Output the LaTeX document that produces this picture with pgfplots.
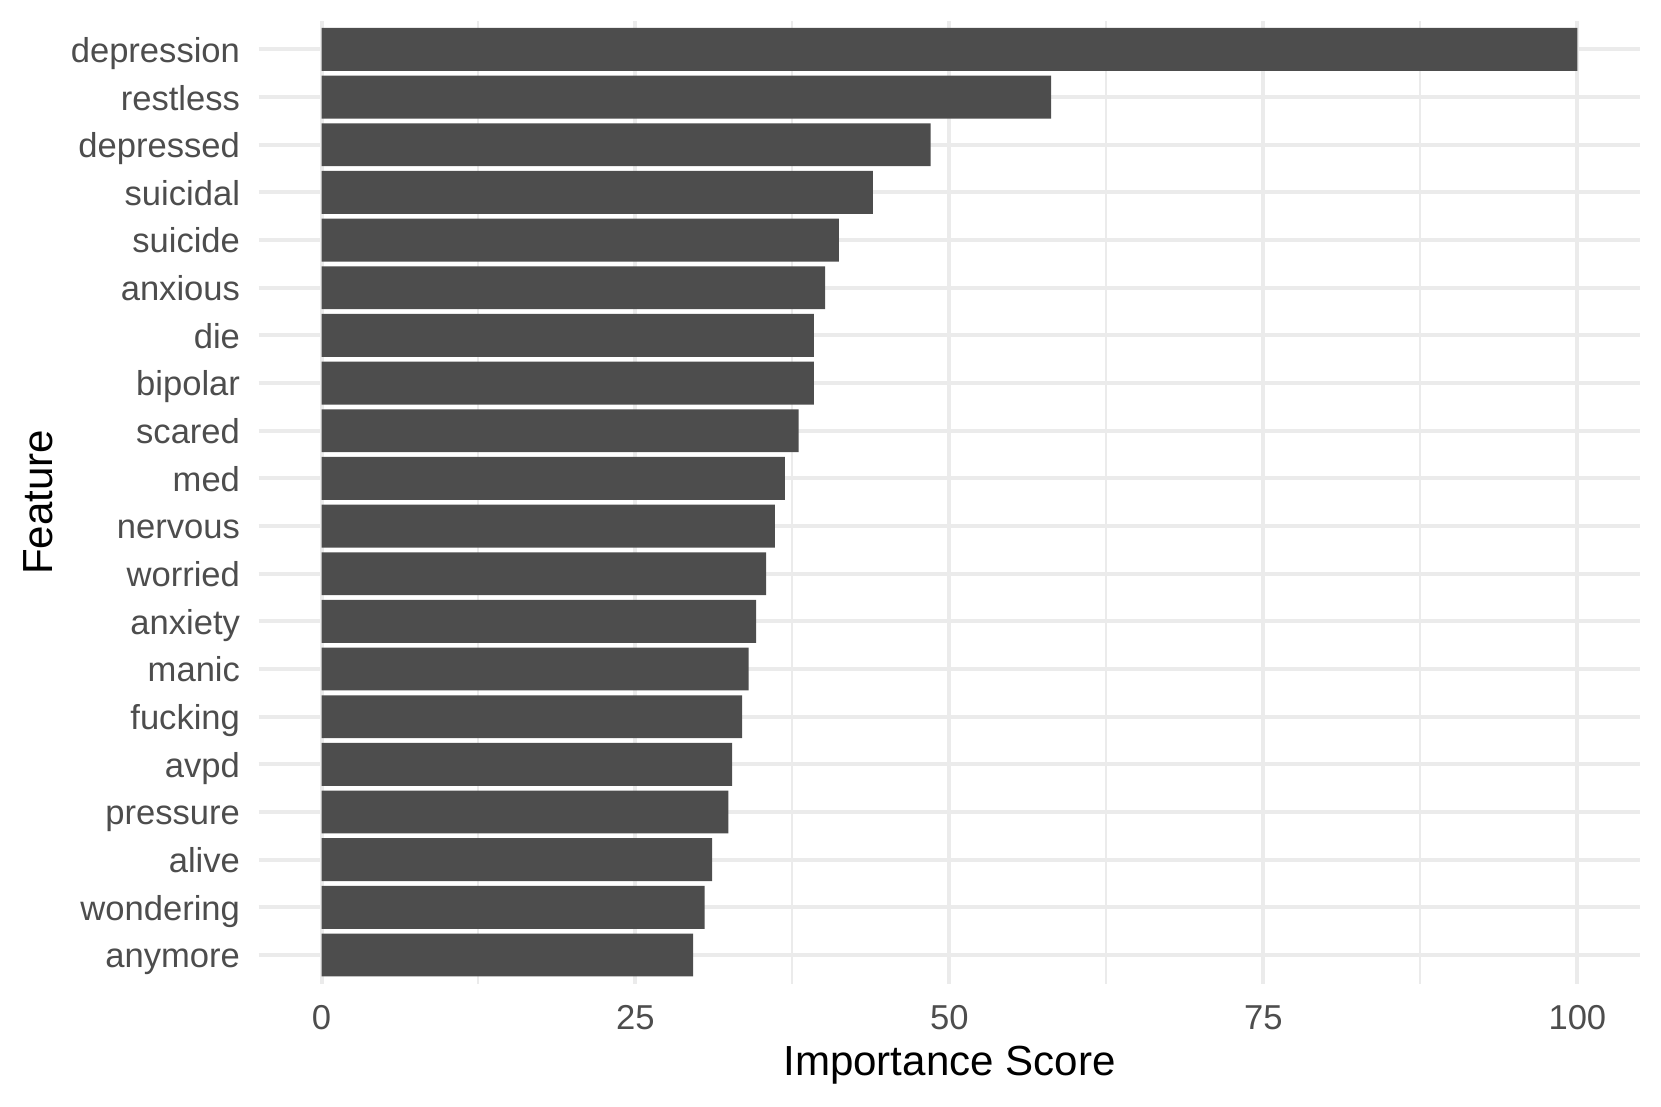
\documentclass[border=0pt]{standalone}
\usepackage{pgfplots}
\pgfplotsset{compat=1.18}
\usepackage{fontspec}
\setmainfont{Liberation Sans}

\definecolor{barfill}{HTML}{4D4D4D}
\definecolor{gridc}{HTML}{EBEBEB}
\definecolor{ticktext}{HTML}{4D4D4D}

\begin{document}
\begin{tikzpicture}
\begin{axis}[
    scale only axis,
    width=331.6pt, height=231.1pt,
    xmin=-5, xmax=105, ymin=0.4, ymax=20.6,
    xbar, bar width=0.9,
    xtick={0,25,50,75,100},
    xticklabels={0,25,50,75,100},
    minor xtick={12.5,37.5,62.5,87.5},
    ytick={1,...,20},
    yticklabels={anymore,wondering,alive,pressure,avpd,fucking,manic,anxiety,worried,nervous,med,scared,bipolar,die,anxious,suicide,suicidal,depressed,restless,depression},
    xmajorgrids, xminorgrids, ymajorgrids,
    major grid style={gridc, line width=0.96pt},
    minor grid style={gridc, line width=0.48pt},
    axis line style={draw=none},
    major tick length=0pt, minor tick length=0pt,
    tick label style={font=\fontsize{8.3}{10}\selectfont, text=ticktext, inner sep=0pt},
    xticklabel style={anchor=north, yshift=-5pt},
    yticklabel style={anchor=base east, xshift=-4.3pt, yshift=-3.1pt},
]
\addplot[fill=barfill, draw=none] coordinates {
    (29.6,1) (30.5,2) (31.1,3) (32.4,4) (32.7,5)
    (33.5,6) (34.0,7) (34.6,8) (35.4,9) (36.1,10)
    (36.9,11) (38.0,12) (39.2,13) (39.2,14) (40.1,15)
    (41.2,16) (43.9,17) (48.5,18) (58.1,19) (100,20)
};
\coordinate (sw) at (rel axis cs:0,0);
\coordinate (ne) at (rel axis cs:1,1);
\coordinate (bc) at (rel axis cs:0.5,0);
\coordinate (lc) at (rel axis cs:0,0.5);
\end{axis}
\node[anchor=base, inner sep=0pt, font=\fontsize{10.1}{12}\selectfont]
    at ([yshift=-22pt]bc) {Importance Score};
\node[anchor=base, rotate=90, inner sep=0pt, font=\fontsize{10.1}{12}\selectfont]
    at ([xshift=-49.6pt]lc) {Feature};
\pgfresetboundingbox
\path[use as bounding box] ([shift={(-62.1pt,-29.6pt)}]sw) rectangle ([shift={(5pt,5pt)}]ne);
\end{tikzpicture}
\end{document}
